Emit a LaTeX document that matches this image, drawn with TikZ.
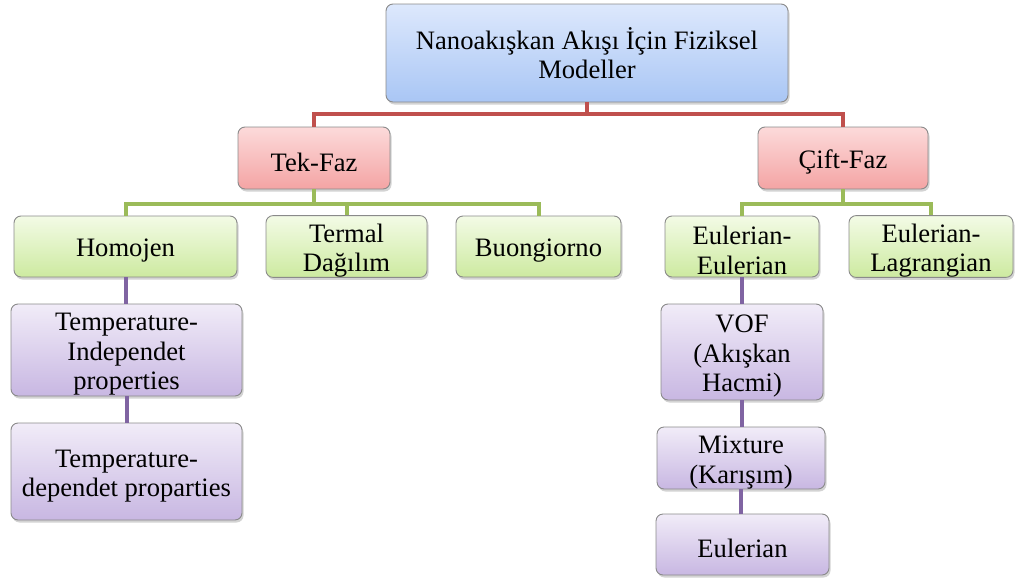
\documentclass[tikz,border=0pt]{standalone}
\usepackage{fontspec}
\setmainfont{Liberation Serif}
\usetikzlibrary{shadows}

\definecolor{boxline}{HTML}{8A8A8A}
\definecolor{redline}{HTML}{C0504D}
\definecolor{greenline}{HTML}{9BBB59}
\definecolor{purpleline}{HTML}{8064A2}
\definecolor{bluetop}{HTML}{DDE8FC}
\definecolor{bluebot}{HTML}{A9C6F5}
\definecolor{redtop}{HTML}{FCDADA}
\definecolor{redbot}{HTML}{F4A4A4}
\definecolor{greentop}{HTML}{F3FBE6}
\definecolor{greenbot}{HTML}{CDEAA0}
\definecolor{purpletop}{HTML}{F1ECF8}
\definecolor{purplebot}{HTML}{C8B7E2}

% strut for the first line of a box
\newcommand{\hi}{\rule{0pt}{26.5pt}}

\tikzset{
  box/.style={draw=boxline, line width=0.9pt, rounded corners=7pt, align=center,
    inner sep=0pt,
    drop shadow={shadow xshift=1.5pt, shadow yshift=-2.5pt, opacity=0.35},
    font=\fontsize{26.6}{29.5}\selectfont},
  bluebox/.style={box, top color=bluetop, bottom color=bluebot},
  redbox/.style={box, top color=redtop, bottom color=redbot},
  greenbox/.style={box, top color=greentop, bottom color=greenbot},
  purplebox/.style={box, top color=purpletop, bottom color=purplebot},
  link/.style={line width=4pt}
}

\begin{document}
\begin{tikzpicture}[x=1pt, y=-1pt]
\useasboundingbox (0,0) rectangle (1017,581);
% root
    \node[bluebox, minimum width=402, minimum height=98] (root) at (587,53)
      {Nanoakışkan Akışı İçin Fiziksel\\Modeller};
% second level
    \node[redbox, minimum width=152, minimum height=62] (tek) at (314,158) {\hi Tek-Faz};
    \node[redbox, minimum width=170, minimum height=62] (cift) at (843,158) {\hi Çift-Faz};
% third level
    \node[greenbox, minimum width=223, minimum height=61] (homojen) at (125.5,246.5) {\hi Homojen};
    \node[greenbox, minimum width=161, minimum height=61] (termal) at (346.5,246.5) {\hi Termal\\Dağılım};
    \node[greenbox, minimum width=165, minimum height=61] (buon) at (538.5,246.5) {\hi Buongiorno};
    \node[greenbox, minimum width=154, minimum height=61] (eulE) at (742,246.5) {\hi Eulerian-\\Eulerian};
    \node[greenbox, minimum width=164, minimum height=61] (eulL) at (931,246.5) {\hi Eulerian-\\Lagrangian};
% left column
    \node[purplebox, minimum width=231, minimum height=92] (tind) at (126.5,350)
      {\hi Temperature-\\Independet\\properties};
    \node[purplebox, minimum width=231, minimum height=97] (tdep) at (126.5,471.5)
      {\hi Temperature-\\dependet proparties};
% right column
    \node[purplebox, minimum width=162, minimum height=96] (vof) at (742,352)
      {\hi VOF\\(Akışkan\\Hacmi)};
    \node[purplebox, minimum width=168, minimum height=62] (mix) at (741,458)
      {\hi Mixture\\(Karışım)};
    \node[purplebox, minimum width=173, minimum height=61] (eul) at (742.5,544.5) {\hi Eulerian};
% red links
    \draw[link, redline] (root.south) -- (root.south |- 0,114) -| (tek.north);
    \draw[link, redline] (root.south) -- (root.south |- 0,114) -| (cift.north);
% green links
    \foreach \n in {homojen,termal,buon}
      \draw[link, greenline] (tek.south) -- (tek.south |- 0,204) -| (\n.north);
    \foreach \n in {eulE,eulL}
      \draw[link, greenline] (cift.south) -- (cift.south |- 0,204) -| (\n.north);
% purple links
    \draw[link, purpleline] (homojen.south) -- (homojen.south |- tind.north);
    \draw[link, purpleline] (tind.south) -- (tind.south |- tdep.north);
    \draw[link, purpleline] (eulE.south) -- (eulE.south |- vof.north);
    \draw[link, purpleline] (vof.south) -- (vof.south |- mix.north);
    \draw[link, purpleline] (mix.south) -- (mix.south |- eul.north);
\end{tikzpicture}
\end{document}
